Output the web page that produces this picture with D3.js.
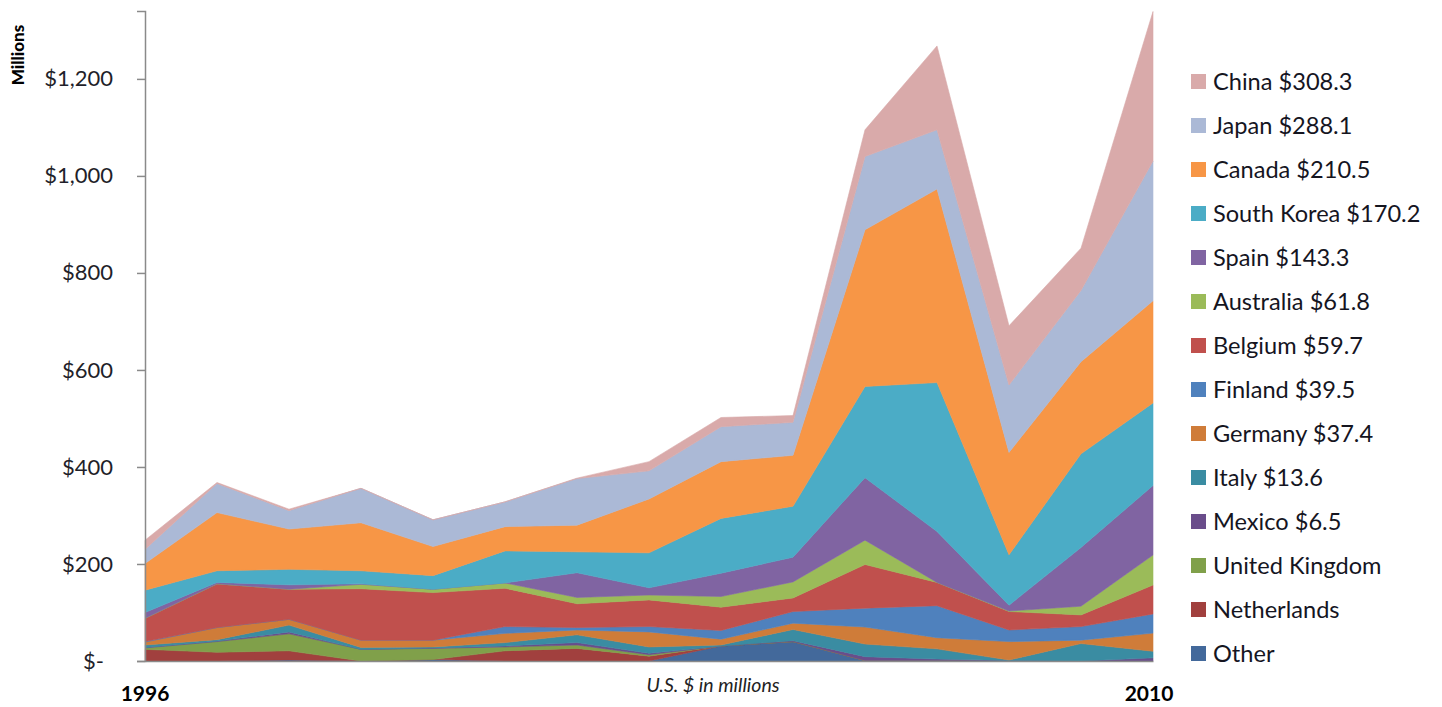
<!DOCTYPE html>
<html>
<head>
<meta charset="utf-8">
<script src="https://cdn.jsdelivr.net/npm/d3@7/dist/d3.min.js"></script>
<style>
  html, body { margin: 0; padding: 0; background: #fff; }
  svg { display: block; }
  text { font-family: Lato, "Open Sans", sans-serif; }
</style>
</head>
<body>
<svg id="chart" width="1442" height="707"></svg>
<script>
// ---- Data (US $ millions) ----
const years = [1996,1997,1998,1999,2000,2001,2002,2003,2004,2005,2006,2007,2008,2009,2010];

const other       = [0, 0, 2, 0, 3, 0, 0, 0, 31, 40, 1, 1, 0, 0, 0];
const netherlands = [24, 18, 19, 0, 0, 21, 26, 10, 0, 0, 0, 0, 0, 0, 0];
const unitedKingdom = [3, 22, 35, 24, 23, 8, 7, 3, 0, 0, 0, 0, 0, 0, 0];
const mexico      = [1, 1, 4, 0, 1, 2, 5, 3, 0, 2, 8, 3, 1, 0, 6.5];
const italy       = [5, 3, 14, 4, 2, 7, 16, 13, 2, 23, 26, 21, 1, 36, 13.6];
const germany     = [6, 25, 12, 15, 14, 19, 10, 31, 12, 13, 35, 23, 38, 7, 37.4];
const finland     = [1, 0, 0, 0, 0, 14, 5, 11, 18, 24, 39, 66, 24, 28, 39.5];
const belgium     = [48, 90, 62, 106, 98, 79, 49, 55, 48, 28, 90, 48, 38, 24, 59.7];
const australia   = [0, 0, 0, 9, 7, 11, 13, 10, 22, 33, 50, 0, 1, 18, 61.8];
const spain       = [12, 3, 9, 1, 0, 0, 51, 15, 48, 51, 129, 105, 12, 121, 143.3];
const southKorea  = [46, 24, 32, 27, 28, 66, 43, 72, 113, 105, 188, 307, 104, 193, 170.2];
const canada      = [55, 120, 83, 99, 60, 50, 55, 111, 117, 105, 323, 399, 211, 190, 210.5];
const japan       = [29, 60, 38, 71, 55, 51, 96, 58, 72, 68, 151, 122, 139, 147, 288.1];
const china       = [19, 2, 3, 0, 0, 0, 1, 19, 19, 14, 55, 173, 122, 87, 308.3];

// stacking order bottom -> top
const seriesNames = ["Other","Netherlands","United Kingdom","Mexico","Italy","Germany","Finland",
                     "Belgium","Australia","Spain","South Korea","Canada","Japan","China"];
const seriesValues = [other, netherlands, unitedKingdom, mexico, italy, germany, finland,
                      belgium, australia, spain, southKorea, canada, japan, china];
const seriesColors = ["#43699b","#a1403e","#80a04a","#6a4d8b","#3a8ca2","#cf7c39","#4f81bd",
                      "#c0504d","#9bbb59","#8064a2","#4bacc6","#f79646","#abb9d6","#d9aaaa"];
// legend labels, top -> bottom
const legendLabels = ["China $308.3","Japan $288.1","Canada $210.5","South Korea $170.2","Spain $143.3",
                      "Australia $61.8","Belgium $59.7","Finland $39.5","Germany $37.4","Italy $13.6",
                      "Mexico $6.5","United Kingdom","Netherlands","Other"];
const yTicks = [0, 200, 400, 600, 800, 1000, 1200];
const xLabels = ["1996", "2010"];

// ---- Build table ----
const table = years.map((yr, i) => {
  const row = { year: yr };
  seriesNames.forEach((n, k) => { row[n] = seriesValues[k][i]; });
  return row;
});

const svg = d3.select("#chart");
const x = d3.scaleLinear().domain([1996, 2010]).range([145, 1153]);
const y = d3.scaleLinear().domain([0, 1340]).range([661, 11]);

const stack = d3.stack().keys(seriesNames);
const layers = stack(table);

const area = d3.area()
  .x(d => x(d.data.year))
  .y0(d => y(d[0]))
  .y1(d => y(d[1]));

svg.append("g").selectAll("path")
  .data(layers)
  .join("path")
  .attr("d", area)
  .attr("fill", (d, i) => seriesColors[i])
  .attr("stroke", (d, i) => seriesColors[i])
  .attr("stroke-width", 0.6)
  .attr("stroke-linejoin", "round");

// ---- Y axis ----
const yAxis = d3.axisLeft(y)
  .tickValues(yTicks)
  .tickSize(8)
  .tickPadding(24)
  .tickFormat(v => v === 0 ? "$-" : "$" + d3.format(",")(v));

const gy = svg.append("g").attr("transform", "translate(145,0)").call(yAxis);
gy.select(".domain").attr("stroke", "#8a8a8a").attr("stroke-width", 1.5);
gy.selectAll(".tick line").attr("stroke", "#8a8a8a").attr("stroke-width", 1.5);
gy.selectAll(".tick text")
  .attr("font-family", "Lato, sans-serif")
  .attr("font-size", 22)
  .attr("fill", "#1f1f2a")
  .attr("dx", v => v === 0 ? -9 : 0);

// ---- X axis line ----
const xAxis = d3.axisBottom(x).tickValues([]).tickSizeOuter(0);
const gx = svg.append("g").attr("transform", "translate(0,661)").call(xAxis);
gx.select(".domain").attr("stroke", "#8a8a8a").attr("stroke-width", 1.5);

// Year end labels
svg.append("text").attr("x", 145).attr("y", 701).attr("text-anchor", "middle")
  .attr("font-weight", "bold").attr("font-size", 21).attr("fill", "#000").text(xLabels[0]);
svg.append("text").attr("x", 1149).attr("y", 701).attr("text-anchor", "middle")
  .attr("font-weight", "bold").attr("font-size", 21).attr("fill", "#000").text(xLabels[1]);

// X title
svg.append("text").attr("x", 713).attr("y", 692).attr("text-anchor", "middle")
  .attr("font-style", "italic").attr("font-size", 19.5).attr("fill", "#222").text("U.S. $ in millions");

// Y title
svg.append("text")
  .attr("transform", "translate(24,55) rotate(-90)")
  .attr("text-anchor", "middle")
  .attr("font-weight", "900").attr("font-size", 17).attr("fill", "#000")
  .text("Millions");

// ---- Legend ----
const legend = svg.append("g");
const legendColors = seriesColors.slice().reverse();
legendLabels.forEach((lab, i) => {
  const cy = 81.5 + i * 44;
  legend.append("rect").attr("x", 1191).attr("y", cy - 7.5).attr("width", 15).attr("height", 15)
    .attr("fill", legendColors[i]);
  legend.append("text").attr("x", 1213).attr("y", cy).attr("dy", "0.36em")
    .attr("font-size", 23.6).attr("fill", "#15151f").text(lab);
});
</script>
</body>
</html>
